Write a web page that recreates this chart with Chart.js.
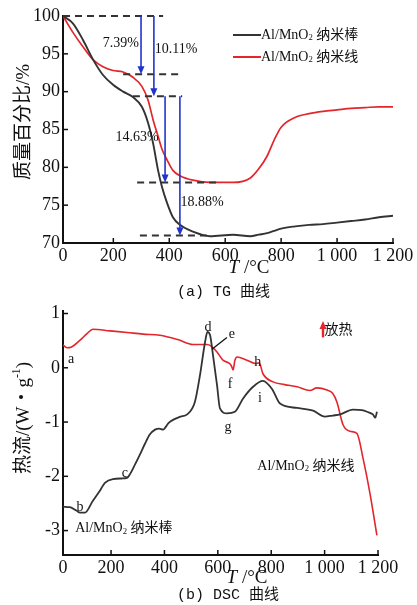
<!DOCTYPE html>
<html>
<head>
<meta charset="utf-8">
<script src="https://cdn.jsdelivr.net/npm/chart.js@4.4.1/dist/chart.umd.min.js"></script>
<style>
html, body { margin: 0; padding: 0; background: #fff; }
#wrap { position: relative; width: 417px; height: 605px; }
#tgBox { position: absolute; left: 0; top: 0; width: 417px; height: 300px; }
#dscBox { position: absolute; left: 0; top: 297px; width: 417px; height: 308px; }
</style>
</head>
<body>
<div id="wrap">
  <div id="tgBox"><canvas id="tgChart"></canvas></div>
  <div id="dscBox"><canvas id="dscChart"></canvas></div>
</div>
<script>
// series names
const seriesNames = ['Al/MnO₂ 纳米棒', 'Al/MnO₂ 纳米线'];

// TG curves (mass %, vs temperature °C)
const tgTemp = [20, 56, 92, 128, 163, 199, 235, 270, 302, 324, 342, 360, 374, 392, 413, 438, 485, 546, 628, 690, 720, 750, 775, 800, 850, 900, 950, 1000, 1050, 1100, 1150, 1200];
const tgRod  = [100, 99.0, 96.8, 94.2, 92.2, 90.9, 90.0, 89.3, 88.0, 85.9, 83.2, 79.6, 77.4, 75.3, 73.4, 72.4, 71.5, 70.9, 71.1, 70.9, 71.1, 71.3, 71.6, 71.9, 72.2, 72.4, 72.5, 72.7, 72.9, 73.1, 73.4, 73.6];
const tgWire = [100, 97.8, 95.9, 94.2, 93.3, 92.8, 92.6, 91.9, 90.7, 88.9, 86.3, 84.1, 82.4, 81.0, 79.6, 78.9, 78.3, 78.0, 78.0, 78.6, 79.8, 81.5, 83.6, 85.3, 86.6, 87.1, 87.4, 87.6, 87.8, 87.9, 88.0, 88.0];

// DSC curves (W/g)
const dscRodTemp = [20, 46, 70, 84, 102, 132, 160, 177, 207, 240, 260, 271, 290, 308, 327, 345, 365, 380, 395, 415, 432, 460, 485, 514, 533, 552, 561, 571, 582, 597, 608, 634, 664, 694, 732, 769, 803, 833, 897, 957, 1001, 1030, 1058, 1106, 1140, 1159, 1181, 1190, 1196];
const dscRod = [-2.56, -2.57, -2.63, -2.67, -2.67, -2.45, -2.25, -2.12, -2.05, -2.04, -2.03, -1.96, -1.78, -1.60, -1.40, -1.23, -1.14, -1.12, -1.14, -1.02, -0.96, -0.90, -0.86, -0.63, -0.14, 0.47, 0.66, 0.60, 0.23, -0.32, -0.75, -0.84, -0.81, -0.57, -0.35, -0.24, -0.39, -0.66, -0.74, -0.79, -0.90, -0.88, -0.86, -0.77, -0.78, -0.81, -0.86, -0.92, -0.81];
const dscWireTemp = [20, 35, 50, 84, 110, 132, 196, 260, 320, 383, 450, 507, 559, 575, 597, 619, 646, 652, 657, 664, 672, 709, 740, 755, 769, 807, 850, 897, 945, 971, 1009, 1030, 1046, 1069, 1095, 1121, 1144, 1170, 1196];
const dscWire = [0.42, 0.37, 0.38, 0.51, 0.63, 0.71, 0.68, 0.65, 0.62, 0.60, 0.52, 0.43, 0.43, 0.40, 0.29, 0.14, 0.07, 0.02, -0.04, 0.14, 0.20, 0.14, 0.08, 0.09, -0.11, -0.26, -0.31, -0.35, -0.42, -0.37, -0.41, -0.47, -0.63, -1.05, -1.17, -1.21, -1.67, -2.32, -3.09];

// axis ticks
const tempTicks = [20, 200, 400, 600, 800, 1000, 1200];
const tempTickLabels = ['0', '200', '400', '600', '800', '1 000', '1 200'];
const tgTicks = [70, 75, 80, 85, 90, 95, 100];
const dscTicks = [-3, -2, -1, 0, 1];

// TG step annotations
const tgSteps = [
    { label: '7.39%',  from: 100,  to: 92.3, x: 299, tx: 227, ty: 96.4 },
    { label: '10.11%', from: 100,  to: 89.4, x: 345, tx: 424, ty: 95.6 },
    { label: '14.63%', from: 89.4, to: 78.0, x: 385, tx: 285, ty: 84.0 },
    { label: '18.88%', from: 89.4, to: 71.0, x: 438, tx: 517, ty: 75.4 }
];
const tgLevels = [
    { y: 100,  x0: 20,  x1: 378 },
    { y: 92.3, x0: 235, x1: 446 },
    { y: 89.4, x0: 270, x1: 446 },
    { y: 78.0, x0: 285, x1: 581 },
    { y: 71.0, x0: 295, x1: 539 }
];
// DSC point letters
const dscMarks = [
    ['a', 50, 0.16], ['b', 84, -2.58], ['c', 252, -1.94], ['d', 563, 0.74], ['e', 653, 0.62],
    ['f', 646, -0.30], ['g', 638, -1.10], ['h', 750, 0.10], ['i', 758, -0.57]
];

const SERIF = '"Liberation Serif", "Noto Sans CJK SC", serif';
const MONO = '"Liberation Mono", "Noto Sans CJK SC", monospace';
const ROD_COLOR = '#333333';
const WIRE_COLOR = '#e2262c';
const BLUE = '#2233cc';

function toPoints(xs, ys) {
    return xs.map((x, i) => ({ x: x, y: ys[i] }));
}

// draws text with ₂ as subscript and ⁻¹ as superscript
function drawRich(ctx, text, x, y, size, align, family) {
    const fam = family || SERIF;
    const segs = text.split(/(₂|⁻¹)/).filter(p => p).map(p => {
        if (p === '₂') return { t: '2', s: size * 0.62, dy: size * 0.22 };
        if (p === '⁻¹') return { t: '-1', s: size * 0.62, dy: -size * 0.35 };
        return { t: p, s: size, dy: 0 };
    });
    let w = 0;
    segs.forEach(g => { ctx.font = g.s + 'px ' + fam; g.w = ctx.measureText(g.t).width; w += g.w; });
    let cx = align === 'center' ? x - w / 2 : (align === 'right' ? x - w : x);
    ctx.textAlign = 'left';
    ctx.textBaseline = 'middle';
    segs.forEach(g => { ctx.font = g.s + 'px ' + fam; ctx.fillText(g.t, cx, y + g.dy); cx += g.w; });
}

function arrow(ctx, x, y0, y1, color, width) {
    const dir = y1 > y0 ? 1 : -1;
    ctx.strokeStyle = color;
    ctx.fillStyle = color;
    ctx.lineWidth = width;
    ctx.setLineDash([]);
    ctx.beginPath();
    ctx.moveTo(x, y0);
    ctx.lineTo(x, y1 - dir * 6);
    ctx.stroke();
    ctx.beginPath();
    ctx.moveTo(x, y1);
    ctx.lineTo(x - 3.5, y1 - dir * 8);
    ctx.lineTo(x + 3.5, y1 - dir * 8);
    ctx.closePath();
    ctx.fill();
}

// inside tick marks for both axes
function drawTicks(chart, yValues) {
    const ctx = chart.ctx;
    const xs = chart.scales.x, ys = chart.scales.y;
    ctx.strokeStyle = '#111';
    ctx.lineWidth = 1.5;
    ctx.setLineDash([]);
    tempTicks.slice(1).forEach(v => {
        const px = xs.getPixelForValue(v);
        ctx.beginPath();
        ctx.moveTo(px, ys.bottom);
        ctx.lineTo(px, ys.bottom - 5);
        ctx.stroke();
    });
    yValues.forEach(v => {
        const py = ys.getPixelForValue(v);
        ctx.beginPath();
        ctx.moveTo(xs.left, py);
        ctx.lineTo(xs.left + 5, py);
        ctx.stroke();
    });
}

function tempAxisTitle(ctx, cx, cy) {
    ctx.fillStyle = '#111';
    ctx.font = 'italic 19px ' + SERIF;
    const w1 = ctx.measureText('T').width;
    ctx.font = '19px ' + SERIF;
    const w2 = ctx.measureText(' /°C').width;
    const x0 = cx - (w1 + w2) / 2;
    ctx.textAlign = 'left';
    ctx.textBaseline = 'middle';
    ctx.font = 'italic 19px ' + SERIF;
    ctx.fillText('T', x0, cy);
    ctx.font = '19px ' + SERIF;
    ctx.fillText(' /°C', x0 + w1, cy);
}

function caption(ctx, tag, text, y) {
    ctx.fillStyle = '#111';
    ctx.font = '15px ' + MONO;
    ctx.textAlign = 'left';
    ctx.textBaseline = 'middle';
    ctx.fillText(tag, 177, y);
    ctx.fillText(text, 213, y);
}

function scaleOptions(yMin, yMax, yTicks, xPad) {
    return {
        x: {
            type: 'linear',
            min: 20,
            max: 1200,
            afterBuildTicks: s => { s.ticks = tempTicks.map(v => ({ value: v })); },
            afterFit: s => { s.height = xPad; },
            grid: { display: false, drawTicks: false },
            border: { display: true, color: '#111', width: 2 },
            ticks: {
                padding: 2,
                autoSkip: false,
                maxRotation: 0,
                color: '#111',
                font: { family: SERIF, size: 18 },
                callback: (v, i) => tempTickLabels[i]
            }
        },
        y: {
            type: 'linear',
            min: yMin,
            max: yMax,
            afterBuildTicks: s => { s.ticks = yTicks.map(v => ({ value: v })); },
            afterFit: s => { s.width = 63; },
            grid: { display: false, drawTicks: false },
            border: { display: true, color: '#111', width: 2 },
            ticks: {
                padding: 3,
                color: '#111',
                font: { family: SERIF, size: 18 },
                callback: v => String(v)
            }
        }
    };
}

function lineSet(label, data, color, width) {
    return {
        label: label,
        data: data,
        borderColor: color,
        backgroundColor: color,
        borderWidth: width,
        pointRadius: 0,
        cubicInterpolationMode: 'monotone',
        fill: false
    };
}

const tgDecor = {
    id: 'tgDecor',
    afterDraw(chart) {
        const ctx = chart.ctx;
        const xs = chart.scales.x, ys = chart.scales.y;
        ctx.save();
        drawTicks(chart, tgTicks);

        // dashed level lines
        ctx.strokeStyle = '#333';
        ctx.lineWidth = 2;
        ctx.setLineDash([7, 5]);
        tgLevels.forEach(l => {
            const py = ys.getPixelForValue(l.y);
            ctx.beginPath();
            ctx.moveTo(xs.getPixelForValue(l.x0), py);
            ctx.lineTo(xs.getPixelForValue(l.x1), py);
            ctx.stroke();
        });

        // blue arrows and percentages
        tgSteps.forEach(s => {
            const px = xs.getPixelForValue(s.x);
            arrow(ctx, px, ys.getPixelForValue(s.from), ys.getPixelForValue(s.to), BLUE, 1.6);
            ctx.fillStyle = '#111';
            drawRich(ctx, s.label, xs.getPixelForValue(s.tx), ys.getPixelForValue(s.ty), 14, 'center');
        });

        // legend
        chart.data.datasets.forEach((ds, i) => {
            const y = 35 + i * 22;
            ctx.setLineDash([]);
            ctx.strokeStyle = ds.borderColor;
            ctx.lineWidth = 2;
            ctx.beginPath();
            ctx.moveTo(233, y);
            ctx.lineTo(261, y);
            ctx.stroke();
            ctx.fillStyle = '#111';
            drawRich(ctx, ds.label, 261, y, 14, 'left');
        });

        // axis titles
        ctx.fillStyle = '#111';
        ctx.save();
        ctx.translate(24, 122);
        ctx.rotate(-Math.PI / 2);
        drawRich(ctx, '质量百分比/%', 0, 0, 19, 'center');
        ctx.restore();
        tempAxisTitle(ctx, 249, 268);
        caption(ctx, '(a)', 'TG 曲线', 292);
        ctx.restore();
    }
};

const dscDecor = {
    id: 'dscDecor',
    afterDraw(chart) {
        const ctx = chart.ctx;
        const xs = chart.scales.x, ys = chart.scales.y;
        ctx.save();
        drawTicks(chart, dscTicks);

        ctx.fillStyle = '#111';
        dscMarks.forEach(m => {
            drawRich(ctx, m[0], xs.getPixelForValue(m[1]), ys.getPixelForValue(m[2]), 14, 'center');
        });
        // leader line to e
        ctx.strokeStyle = '#111';
        ctx.lineWidth = 1.3;
        ctx.setLineDash([]);
        ctx.beginPath();
        ctx.moveTo(xs.getPixelForValue(578), ys.getPixelForValue(0.34));
        ctx.lineTo(xs.getPixelForValue(634), ys.getPixelForValue(0.56));
        ctx.stroke();

        // exotherm marker
        arrow(ctx, xs.getPixelForValue(994), ys.getPixelForValue(0.56), ys.getPixelForValue(0.86), WIRE_COLOR, 2.4);
        ctx.fillStyle = '#111';
        drawRich(ctx, '放热', xs.getPixelForValue(1000), ys.getPixelForValue(0.69), 14, 'left');

        // curve names
        drawRich(ctx, seriesNames[1], xs.getPixelForValue(930), ys.getPixelForValue(-1.81), 14, 'center');
        drawRich(ctx, seriesNames[0], xs.getPixelForValue(248), ys.getPixelForValue(-2.96), 14, 'center');

        ctx.save();
        ctx.translate(24, 121);
        ctx.rotate(-Math.PI / 2);
        drawRich(ctx, '热流/(W・g⁻¹)', 0, 0, 19, 'center');
        ctx.restore();
        tempAxisTitle(ctx, 247, 281);
        caption(ctx, '(b)', 'DSC 曲线', 298);
        ctx.restore();
    }
};

function createCharts() {
    new Chart(document.getElementById('tgChart').getContext('2d'), {
        type: 'line',
        data: {
            datasets: [
                lineSet(seriesNames[0], toPoints(tgTemp, tgRod), ROD_COLOR, 1.9),
                lineSet(seriesNames[1], toPoints(tgTemp, tgWire), WIRE_COLOR, 1.7)
            ]
        },
        options: {
            responsive: true,
            maintainAspectRatio: false,
            animation: false,
            devicePixelRatio: 1,
            layout: { padding: { top: 16, right: 24, bottom: 0, left: 0 } },
            scales: scaleOptions(70, 100, tgTicks, 57),
            plugins: { legend: { display: false }, tooltip: { enabled: false } }
        },
        plugins: [tgDecor]
    });

    new Chart(document.getElementById('dscChart').getContext('2d'), {
        type: 'line',
        data: {
            datasets: [
                lineSet(seriesNames[0], toPoints(dscRodTemp, dscRod), ROD_COLOR, 1.8),
                lineSet(seriesNames[1], toPoints(dscWireTemp, dscWire), WIRE_COLOR, 1.6)
            ]
        },
        options: {
            responsive: true,
            maintainAspectRatio: false,
            animation: false,
            devicePixelRatio: 1,
            layout: { padding: { top: 11, right: 39, bottom: 0, left: 0 } },
            scales: scaleOptions(-3.45, 1.05, dscTicks, 50),
            plugins: { legend: { display: false }, tooltip: { enabled: false } }
        },
        plugins: [dscDecor]
    });
}

window.onload = function() {
    createCharts();
};
</script>
</body>
</html>
